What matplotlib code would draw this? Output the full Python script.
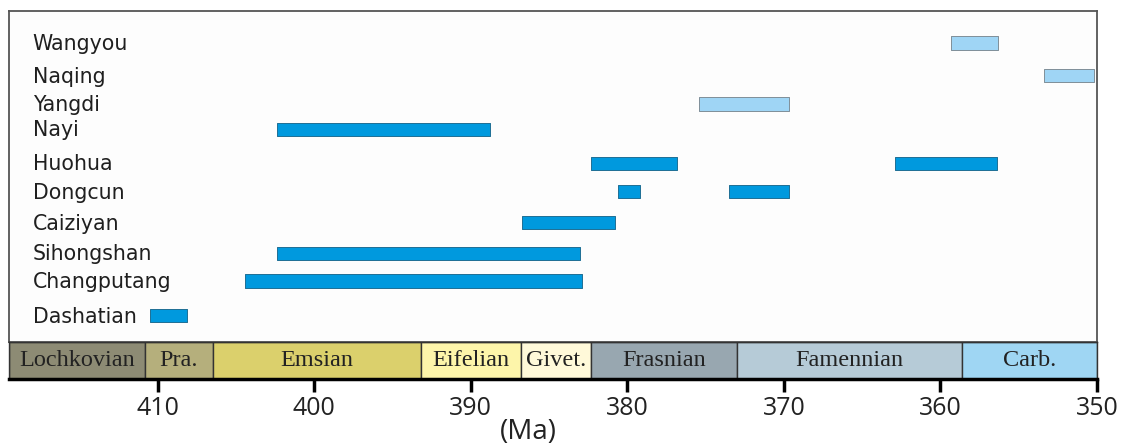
import numpy as np
import matplotlib.pyplot as plt

# sections, top to bottom
sections = ["Wangyou", "Naqing", "Yangdi", "Nayi", "Huohua", "Dongcun",
            "Caiziyan", "Sihongshan", "Changputang", "Dashatian"]
# age ranges (older Ma, younger Ma) for each section
ranges = [
    [(359.3, 356.3)],
    [(353.4, 350.2)],
    [(375.4, 369.7)],
    [(402.4, 388.8)],
    [(382.3, 376.8), (362.9, 356.4)],
    [(380.6, 379.2), (373.5, 369.7)],
    [(386.7, 380.8)],
    [(402.4, 383.0)],
    [(404.4, 382.9)],
    [(410.5, 408.1)],
]
light = ["Wangyou", "Naqing", "Yangdi"]

stages = ["Lochkovian", "Pra.", "Emsian", "Eifelian", "Givet.",
          "Frasnian", "Famennian", "Carb."]
stage_bounds = [419.5, 410.8, 406.5, 393.2, 386.8, 382.3, 373.0, 358.6, 350.0]
stage_colors = ["#8d8b74", "#b5af7c", "#dbd06c", "#fdf5aa", "#fff9d9",
                "#98a7b0", "#b6cbd7", "#9fd6f3"]
ticks = [410, 400, 390, 380, 370, 360, 350]

# layout: row positions (rows are not evenly spaced in the original)
row_y = [0, 1.08, 2.01, 2.85, 3.97, 4.91, 5.93, 6.94, 7.85, 9.0]

W, H = 1125, 448
fig = plt.figure(figsize=(W / 100, H / 100), dpi=100)
fig.patch.set_facecolor("white")

x0, x1 = 9, 1097
ax = fig.add_axes([x0 / W, (H - 341.7) / H, (x1 - x0) / W, (341.7 - 10.7) / H])
ax.set_facecolor("#fdfdfd")
ax.set_xlim(stage_bounds[0], stage_bounds[-1])
ax.set_ylim(9.858, -1.066)
ax.set_xticks([])
ax.set_yticks([])
for s in ax.spines.values():
    s.set_color("#555555")
    s.set_linewidth(1.3)

for name, y, rr in zip(sections, row_y, ranges):
    if name in light:
        fc, ec = "#9fd5f5", "#7f8f99"
    else:
        fc, ec = "#0099de", "#1f6f95"
    ax.broken_barh([(young, old - young) for old, young in rr], (y - 0.22, 0.44),
                   facecolor=fc, edgecolor=ec, linewidth=0.7)
    ax.text(0.0218, y + 0.03, name, transform=ax.get_yaxis_transform(),
            ha="left", va="center", fontsize=14.8, family="DejaVu Sans", color="#1f1f1f")

# geologic time scale strip
ax2 = fig.add_axes([x0 / W, (H - 379) / H, (x1 - x0) / W, (379 - 341.7) / H])
ax2.set_xlim(stage_bounds[0], stage_bounds[-1])
ax2.set_ylim(0, 1)
ax2.set_yticks([])
for i, st in enumerate(stages):
    a, b = stage_bounds[i], stage_bounds[i + 1]
    ax2.barh(0.5, b - a, left=a, height=1, color=stage_colors[i],
             edgecolor="#333333", linewidth=1.0)
    ax2.text((a + b) / 2, 0.5, st, ha="center", va="center",
             fontsize=17.5, family="Liberation Serif", color="#222222")
for s in ["top", "left", "right"]:
    ax2.spines[s].set_color("#333333")
    ax2.spines[s].set_linewidth(1.0)
ax2.spines["bottom"].set_color("black")
ax2.spines["bottom"].set_linewidth(2.5)
ax2.set_xticks(ticks)
ax2.set_xticklabels([str(t) for t in ticks], family="Open Sans", fontsize=18, color="#222222")
ax2.tick_params(axis="x", direction="out", length=9, width=2.5, pad=3, color="black")

fig.text(528 / W, 1 - 432 / H, "(Ma)", ha="center", va="center",
         family="Open Sans", fontsize=20, color="#222222")

fig.savefig("out.png", dpi=100)
